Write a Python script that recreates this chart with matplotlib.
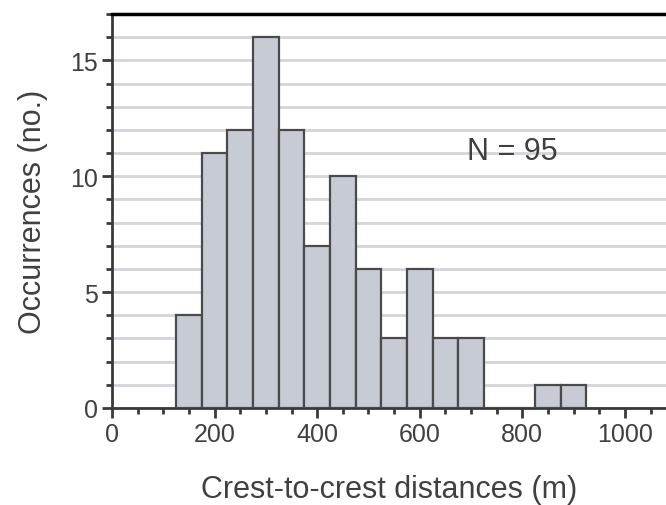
import numpy as np
import matplotlib
matplotlib.use("Agg")
import matplotlib.pyplot as plt
from matplotlib.ticker import MultipleLocator

# bin centres (m) and counts (bin width 50 m)
centres = [150, 200, 250, 300, 350, 400, 450, 500, 550, 600, 650, 700, 750, 800, 850, 900]
counts = [4, 11, 12, 16, 12, 7, 10, 6, 3, 6, 3, 3, 0, 0, 1, 1]
bin_width = 50

plt.rcParams['font.family'] = ['Liberation Sans', 'DejaVu Sans']
txt = '#404040'

fig = plt.figure(figsize=(6.66, 5.06), dpi=100)
ax = fig.add_axes([112 / 666, 97 / 506, 554 / 666, 394 / 506])

ax.set_axisbelow(True)
ax.yaxis.grid(True, which='both', color='#d3d5db', linewidth=2.0)
ax.bar(centres, counts, width=bin_width, color='#c7cbd4',
       edgecolor='#4a4a4a', linewidth=1.6, zorder=3)

ax.set_xlim(0, 1080)
ax.set_ylim(0, 17)
ax.xaxis.set_major_locator(MultipleLocator(200))
ax.xaxis.set_minor_locator(MultipleLocator(50))
ax.yaxis.set_major_locator(MultipleLocator(5))
ax.yaxis.set_minor_locator(MultipleLocator(1))

ax.spines['right'].set_visible(False)
ax.spines['top'].set_color('black')
ax.spines['top'].set_linewidth(2.5)
for s in ['left', 'bottom']:
    ax.spines[s].set_color('#3a3a3a')
    ax.spines[s].set_linewidth(2.0)

ax.tick_params(which='major', direction='out', length=7, width=2,
               color='#3a3a3a', labelsize=18, labelcolor=txt, pad=3)
ax.tick_params(which='minor', direction='out', length=4, width=2, color='#3a3a3a')
ax.tick_params(axis='y', which='both', right=False)
ax.tick_params(axis='x', which='both', top=False)

ax.set_xlabel('Crest-to-crest distances (m)', fontsize=22, color=txt, labelpad=20)
ax.set_ylabel('Occurrences (no.)', fontsize=22, color=txt, labelpad=16)

ax.text(780, 11.1, 'N = 95', fontsize=22, color=txt, ha='center', va='center',
        zorder=4)

fig.savefig('out.png', dpi=100)
